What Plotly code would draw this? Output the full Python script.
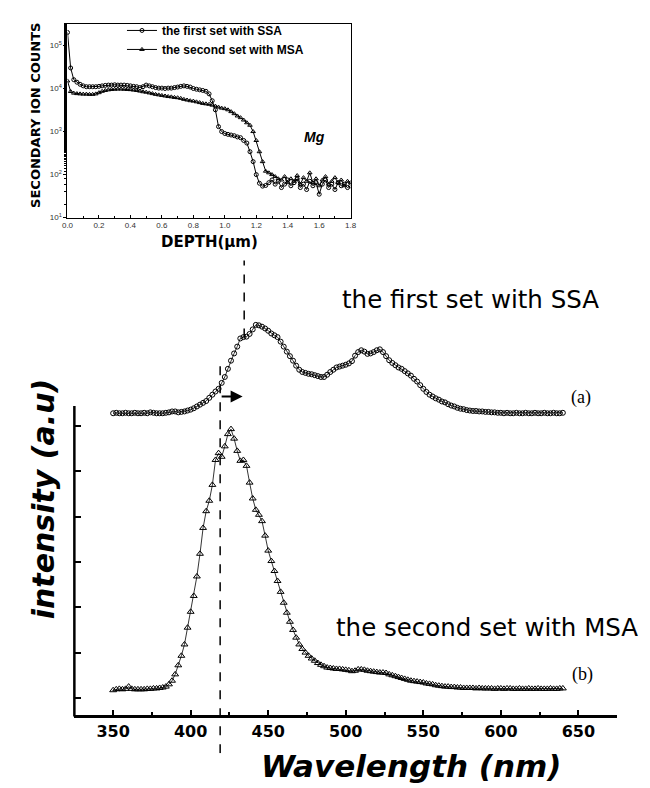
import plotly.graph_objects as go

# ---------------- data ----------------
wavelength = list(range(350, 641, 2))

# (a) first set with SSA  (offset intensity, arbitrary units)
ssa_pl = [
    6.28, 6.29, 6.28, 6.28, 6.29,
    6.28, 6.28, 6.29, 6.28, 6.28,
    6.29, 6.28, 6.30, 6.29, 6.28,
    6.28, 6.28, 6.29, 6.30, 6.32,
    6.32, 6.30, 6.31, 6.32, 6.34,
    6.36, 6.39, 6.43, 6.47, 6.51,
    6.55, 6.62, 6.69, 6.76, 6.82,
    6.95, 7.08, 7.26, 7.44, 7.60,
    7.75, 7.93, 7.96, 7.97, 8.03,
    8.13, 8.23, 8.22, 8.19, 8.15,
    8.10, 8.04, 8.00, 7.96, 7.86,
    7.75, 7.64, 7.54, 7.44, 7.33,
    7.24, 7.19, 7.17, 7.15, 7.14,
    7.12, 7.10, 7.08, 7.08, 7.13,
    7.19, 7.24, 7.29, 7.31, 7.33,
    7.35, 7.38, 7.43, 7.55, 7.63,
    7.67, 7.64, 7.59, 7.60, 7.63,
    7.67, 7.69, 7.63, 7.54, 7.45,
    7.39, 7.34, 7.29, 7.26, 7.21,
    7.16, 7.11, 7.04, 6.98, 6.90,
    6.82, 6.75, 6.69, 6.65, 6.61,
    6.58, 6.54, 6.52, 6.48, 6.45,
    6.43, 6.40, 6.38, 6.37, 6.35,
    6.34, 6.33, 6.33, 6.32, 6.32,
    6.31, 6.31, 6.30, 6.30, 6.29,
    6.29, 6.28, 6.29, 6.28, 6.28,
    6.29, 6.28, 6.28, 6.29, 6.28,
    6.28, 6.29, 6.28, 6.28, 6.29,
    6.28, 6.28, 6.29, 6.28, 6.28,
    6.29,
]

# (b) second set with MSA
msa_pl = [
    0.17, 0.19, 0.20, 0.19, 0.20,
    0.25, 0.20, 0.19, 0.19, 0.19,
    0.19, 0.20, 0.20, 0.21, 0.21,
    0.22, 0.23, 0.25, 0.30, 0.38,
    0.52, 0.72, 0.93, 1.18, 1.55,
    1.90, 2.25, 2.68, 3.18, 3.75,
    4.12, 4.35, 4.70, 5.25, 5.40,
    5.32, 5.55, 5.82, 5.93, 5.72,
    5.45, 5.23, 5.25, 5.12, 4.75,
    4.40, 4.15, 4.04, 3.90, 3.58,
    3.25, 3.02, 2.80, 2.58, 2.34,
    2.10, 1.88, 1.68, 1.50, 1.33,
    1.18, 1.08, 1.00, 0.93, 0.87,
    0.82, 0.77, 0.73, 0.70, 0.67,
    0.66, 0.65, 0.64, 0.64, 0.63,
    0.62, 0.61, 0.59, 0.60, 0.63,
    0.63, 0.62, 0.60, 0.59, 0.58,
    0.57, 0.56, 0.56, 0.55, 0.52,
    0.50, 0.48, 0.46, 0.44, 0.42,
    0.40, 0.38, 0.37, 0.36, 0.35,
    0.34, 0.32, 0.31, 0.30, 0.28,
    0.27, 0.26, 0.25, 0.25, 0.24,
    0.24, 0.23, 0.23, 0.22, 0.22,
    0.22, 0.22, 0.21, 0.22, 0.21,
    0.21, 0.21, 0.21, 0.20, 0.21,
    0.21, 0.20, 0.21, 0.21, 0.20,
    0.20, 0.21, 0.20, 0.20, 0.21,
    0.20, 0.20, 0.21, 0.20, 0.20,
    0.20, 0.21, 0.20, 0.20, 0.21,
    0.21,
]

# inset: SIMS depth profile of Mg
depth = [round(0.02 * i, 2) for i in range(91)]
ssa_counts = [
    2.0e5, 3.0e4, 1.6e4, 1.4e4, 1.25e4, 1.15e4, 1.1e4, 1.1e4, 1.1e4, 1.1e4,
    1.12e4, 1.15e4, 1.18e4, 1.2e4, 1.2e4, 1.22e4, 1.2e4, 1.2e4, 1.2e4, 1.18e4,
    1.15e4, 1.12e4, 1.1e4, 1.05e4, 1.1e4, 1.2e4, 1.15e4, 1.1e4, 1.05e4, 1.02e4,
    1.02e4, 1.0e4, 1.02e4, 1.02e4, 1.05e4, 1.08e4, 1.12e4, 1.15e4, 1.12e4, 1.08e4,
    1.0e4, 9.6e3, 9.3e3, 9.0e3, 8.6e3, 7.5e3, 5.2e3, 3.2e3, 1.3e3, 1.0e3,
    9.0e2, 8.6e2, 8.3e2, 8.0e2, 7.5e2, 7.2e2, 6.2e2, 5.4e2, 3.4e2, 2.0e2,
    1.0e2, 6.3e1, 5.4e1, 5.6e1, 6.5e1, 7.5e1, 6.0e1, 7.0e1, 5.0e1, 6.0e1,
    7.5e1, 5.5e1, 6.5e1, 8.0e1, 5.0e1, 6.0e1, 4.5e1, 7.0e1, 5.5e1, 6.5e1,
    3.5e1, 6.0e1, 7.5e1, 5.0e1, 6.0e1, 4.5e1, 6.5e1, 5.5e1, 6.0e1, 5.0e1,
    5.5e1,
]
msa_counts = [
    1.5e4, 8.5e3, 7.8e3, 7.6e3, 7.5e3, 7.4e3, 7.4e3, 7.3e3, 7.3e3, 7.5e3,
    8.0e3, 8.6e3, 9.0e3, 9.3e3, 9.5e3, 9.6e3, 9.7e3, 9.7e3, 9.6e3, 9.5e3,
    9.4e3, 9.2e3, 9.0e3, 8.7e3, 8.4e3, 8.2e3, 7.9e3, 7.6e3, 7.3e3, 7.1e3,
    6.9e3, 6.7e3, 6.5e3, 6.4e3, 6.2e3, 6.1e3, 5.9e3, 5.6e3, 5.4e3, 5.2e3,
    5.1e3, 4.9e3, 4.7e3, 4.5e3, 4.4e3, 4.3e3, 4.1e3, 3.9e3, 3.7e3, 3.5e3,
    3.4e3, 3.2e3, 2.9e3, 2.6e3, 2.3e3, 2.1e3, 1.85e3, 1.6e3, 1.4e3, 1.0e3,
    6.2e2, 3.4e2, 2.0e2, 1.2e2, 1.1e2, 1.0e2, 9.0e1, 8.0e1, 7.5e1, 9.0e1,
    6.5e1, 8.0e1, 7.0e1, 9.5e1, 6.0e1, 8.5e1, 7.0e1, 1.1e2, 6.5e1, 8.0e1,
    5.5e1, 7.5e1, 9.0e1, 6.0e1, 7.0e1, 8.5e1, 6.5e1, 7.5e1, 5.5e1, 7.0e1,
    6.5e1,
]

wl_ticks = [350, 400, 450, 500, 550, 600, 650]
wl_minor = [375, 425, 475, 525, 575, 625, 675]
int_ticks = [0, 1, 2, 3, 4, 5, 6]
depth_ticks = [0.0, 0.2, 0.4, 0.6, 0.8, 1.0, 1.2, 1.4, 1.6, 1.8]
count_ticks = [1e1, 1e2, 1e3, 1e4, 1e5]
count_ticktext = ["10<sup>1</sup>", "10<sup>2</sup>", "10<sup>3</sup>",
                  "10<sup>4</sup>", "10<sup>5</sup>"]
edge_ssa = 434.5   # absorption edge, first set
edge_msa = 419.0   # absorption edge, second set

# ---------------- layout helpers ----------------
W, H = 650, 788
def fx(p):
    return p / W
def fy(p):
    return 1 - p / H

BLACK = "black"

fig = go.Figure()

# main spectra
fig.add_trace(go.Scatter(
    x=wavelength, y=ssa_pl, mode="lines+markers", showlegend=False,
    line=dict(color=BLACK, width=0.8),
    marker=dict(symbol="circle-open", size=5, color=BLACK, line=dict(width=1)),
    xaxis="x", yaxis="y"))
fig.add_trace(go.Scatter(
    x=wavelength, y=msa_pl, mode="lines+markers", showlegend=False,
    line=dict(color=BLACK, width=0.8),
    marker=dict(symbol="triangle-up-open", size=6, color=BLACK, line=dict(width=1)),
    xaxis="x", yaxis="y"))

# inset
fig.add_trace(go.Scatter(
    x=depth, y=ssa_counts, mode="lines+markers", name="the first set with SSA",
    line=dict(color=BLACK, width=1),
    marker=dict(symbol="circle-open", size=4, color=BLACK, line=dict(width=1)),
    xaxis="x2", yaxis="y2"))
fig.add_trace(go.Scatter(
    x=depth, y=msa_counts, mode="lines+markers", name="the second set with MSA",
    line=dict(color=BLACK, width=1),
    marker=dict(symbol="triangle-up-open", size=4, color=BLACK, line=dict(width=1)),
    xaxis="x2", yaxis="y2"))

fig.update_layout(
    width=W, height=H, autosize=False,
    margin=dict(l=0, r=0, t=0, b=0),
    paper_bgcolor="white", plot_bgcolor="rgba(0,0,0,0)",
    font=dict(family="DejaVu Sans", color=BLACK),
    xaxis=dict(
        domain=[fx(61.5), fx(614.5)], range=[325, 675],
        anchor="free", position=fy(713),
        showline=True, linewidth=2.5, linecolor=BLACK,
        ticks="inside", ticklen=6, tickwidth=2, tickcolor=BLACK,
        tickmode="array", tickvals=wl_ticks,
        minor=dict(tickvals=wl_minor, ticks="inside", ticklen=4, tickwidth=2,
                   tickcolor=BLACK),
        tickfont=dict(family="DejaVu Sans", size=16, weight="bold", color=BLACK),
        showgrid=False, zeroline=False),
    yaxis=dict(
        domain=[fy(750), fy(250)], range=[-1.22, 9.74], anchor="x",
        tickmode="array", tickvals=int_ticks, ticks="inside", ticklen=7,
        tickwidth=2, tickcolor=BLACK, showticklabels=False,
        showline=False, showgrid=False, zeroline=False),
    xaxis2=dict(
        domain=[fx(54.5), fx(343)], range=[0, 1.8], anchor="y2",
        tickmode="array", tickvals=depth_ticks, tickformat=".1f",
        ticks="inside", ticklen=3, tickwidth=1, tickcolor=BLACK,
        minor=dict(dtick=0.1, tick0=0, ticks="inside", ticklen=2, tickcolor=BLACK),
        showline=True, mirror=True, linewidth=1, linecolor=BLACK,
        tickfont=dict(family="Liberation Sans", size=8, color="#333"),
        showgrid=False, zeroline=False),
    yaxis2=dict(
        domain=[fy(211), fy(16)], type="log", range=[1, 5.5], anchor="x2",
        tickmode="array", tickvals=count_ticks, ticktext=count_ticktext,
        ticks="outside", ticklen=3, tickwidth=1, tickcolor=BLACK,
        minor=dict(ticks="outside", ticklen=2, tickcolor=BLACK),
        showline=True, mirror=True, linewidth=1, linecolor=BLACK,
        tickfont=dict(family="Liberation Sans", size=8, color="#333"),
        showgrid=False, zeroline=False),
    legend=dict(
        x=fx(110), y=fy(8), xanchor="left", yanchor="top",
        bgcolor="rgba(0,0,0,0)", borderwidth=0,
        font=dict(family="Liberation Sans", size=12, weight="bold", color=BLACK),
        itemwidth=30, tracegroupgap=0),
)

# left axis line of the main chart (only up to top tick region)
fig.add_shape(type="line", xref="paper", yref="y", x0=fx(61.5), x1=fx(61.5),
              y0=-0.41, y1=6.44, line=dict(color=BLACK, width=2.5))
# dashed marker lines
fig.add_shape(type="line", xref="x", yref="y", x0=edge_msa, x1=edge_msa,
              y0=-1.22, y1=7.40, line=dict(color=BLACK, width=1.5, dash="dash"))
fig.add_shape(type="line", xref="x", yref="y", x0=edge_ssa, x1=edge_ssa,
              y0=7.95, y1=9.65, line=dict(color=BLACK, width=1.5, dash="dash"))

# arrow showing the shift
fig.add_annotation(x=edge_ssa - 1, y=6.65, ax=edge_msa, ay=6.65,
                   xref="x", yref="y", axref="x", ayref="y",
                   text="", showarrow=True, arrowhead=2, arrowsize=1.2,
                   arrowwidth=2, arrowcolor=BLACK)

C = dict(xanchor="center", yanchor="middle", showarrow=False)

# text labels
fig.add_annotation(x=580.4, y=8.8, xref="x", yref="y", text="the first set with SSA",
                   font=dict(family="DejaVu Sans", size=24.5, color=BLACK), **C)
fig.add_annotation(x=591, y=1.55, xref="x", yref="y", text="the second set with MSA",
                   font=dict(family="DejaVu Sans", size=24.5, color=BLACK), **C)
fig.add_annotation(x=652, y=6.63, xref="x", yref="y", text="(a)",
                   font=dict(family="Liberation Serif", size=18, color=BLACK), **C)
fig.add_annotation(x=652.5, y=0.51, xref="x", yref="y", text="(b)",
                   font=dict(family="Liberation Serif", size=18, color=BLACK), **C)

fig.add_annotation(x=fx(405), y=fy(763), xref="paper", yref="paper",
                   text="Wavelength (nm)",
                   font=dict(family="DejaVu Sans", size=31, weight="bold",
                             style="italic", color=BLACK), **C)
fig.add_annotation(x=fx(30), y=fy(494), xref="paper", yref="paper",
                   text="intensity (a.u)", textangle=-90,
                   font=dict(family="DejaVu Sans", size=30, weight="bold",
                             style="italic", color=BLACK), **C)

fig.add_annotation(x=fx(199), y=fy(235), xref="paper", yref="paper",
                   text="DEPTH(μm)",
                   font=dict(family="DejaVu Sans", size=15, weight="bold", color=BLACK), **C)
fig.add_annotation(x=fx(22), y=fy(108), xref="paper", yref="paper",
                   text="SECONDARY ION COUNTS", textangle=-90,
                   font=dict(family="DejaVu Sans", size=13, weight="bold", color=BLACK), **C)
fig.add_annotation(x=fx(306), y=fy(130), xref="paper", yref="paper",
                   text="Mg",
                   font=dict(family="Liberation Sans", size=14, weight="bold",
                             style="italic", color=BLACK), **C)

fig.write_html("out.html")
